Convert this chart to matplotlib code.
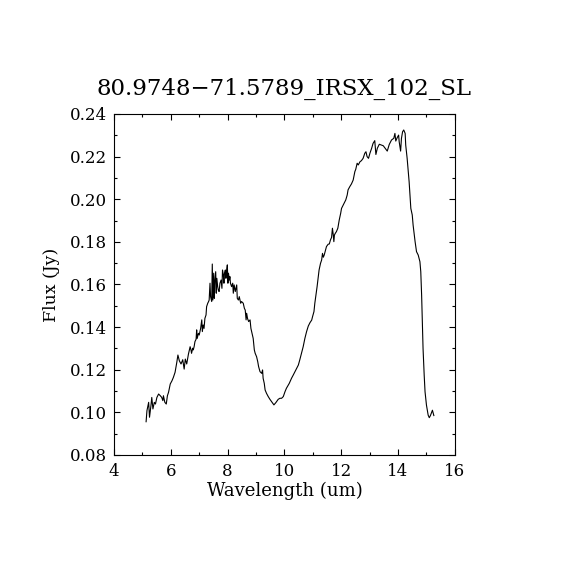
import matplotlib
matplotlib.use("Agg")
import matplotlib.pyplot as plt
from matplotlib.ticker import MultipleLocator

# spectrum (wavelength in um, flux in Jy)
wave = [5.13, 5.16, 5.22, 5.25, 5.30, 5.33, 5.37, 5.42, 5.46, 5.51, 5.57, 5.63, 5.68, 5.72,
        5.74, 5.79, 5.84, 5.88, 5.92, 5.98, 6.04, 6.09, 6.15, 6.21, 6.25, 6.30, 6.36, 6.42,
        6.47, 6.51, 6.56,
        6.62, 6.68, 6.71, 6.73, 6.77, 6.79, 6.82, 6.85, 6.89, 6.91, 6.93, 6.97,
        7.00, 7.05, 7.09, 7.11, 7.14, 7.17, 7.20, 7.24, 7.26, 7.30, 7.33, 7.35, 7.38, 7.40,
        7.44, 7.46, 7.48, 7.51, 7.53, 7.55, 7.58, 7.60, 7.62, 7.65, 7.67, 7.70, 7.73, 7.77,
        7.80, 7.82, 7.85, 7.87, 7.89, 7.92, 7.94, 7.96, 7.99, 8.01, 8.03, 8.06, 8.08, 8.10,
        8.14, 8.18, 8.20, 8.23, 8.27, 8.32, 8.34, 8.38, 8.41, 8.46, 8.49, 8.55, 8.59, 8.62,
        8.65, 8.67, 8.70, 8.74, 8.79, 8.82, 8.86, 8.90, 8.94, 8.97, 9.02, 9.06, 9.09, 9.14,
        9.20, 9.23, 9.25, 9.29, 9.32,
        9.37, 9.43, 9.49, 9.55, 9.63, 9.70, 9.78, 9.84, 9.90, 9.96, 10.02, 10.07, 10.17,
        10.25, 10.31, 10.40, 10.49, 10.54, 10.60, 10.66, 10.72, 10.78, 10.84, 10.90, 10.96,
        10.99, 11.04, 11.07, 11.11, 11.15, 11.19, 11.22, 11.27, 11.31, 11.34, 11.37, 11.40,
        11.45, 11.48, 11.54, 11.58, 11.62, 11.66, 11.69, 11.72, 11.74, 11.76, 11.79, 11.83,
        11.88, 11.93, 11.98, 12.01, 12.07, 12.13, 12.16, 12.21, 12.24, 12.30, 12.36, 12.42,
        12.48, 12.51, 12.56, 12.60, 12.66, 12.71, 12.77, 12.83, 12.87, 12.91, 12.96, 13.01,
        13.07, 13.12, 13.18, 13.22, 13.27, 13.34,
        13.48, 13.62, 13.69, 13.77, 13.85, 13.89, 13.92, 13.97, 14.02, 14.04, 14.09, 14.12,
        14.16, 14.20, 14.25, 14.27, 14.32, 14.36, 14.39, 14.42, 14.45, 14.50, 14.53, 14.57,
        14.60, 14.65, 14.71, 14.77, 14.80, 14.83, 14.86, 14.88, 14.92, 14.95, 15.00, 15.06,
        15.10, 15.14, 15.18, 15.21, 15.26]

flux = [0.0956, 0.1008, 0.1047, 0.0977, 0.1031, 0.1070, 0.1016, 0.1047, 0.1039, 0.1070,
        0.1086, 0.1078, 0.1070, 0.1055, 0.1078, 0.1047, 0.1039, 0.1078, 0.1094, 0.1133,
        0.1148, 0.1164, 0.1188, 0.1234, 0.1269, 0.1242, 0.1227, 0.1247, 0.1203, 0.1250,
        0.1227,
        0.1273, 0.1308, 0.1293, 0.1277, 0.1301, 0.1293, 0.1308, 0.1332, 0.1343, 0.1387,
        0.1347, 0.1371, 0.1363, 0.1394, 0.1434, 0.1379, 0.1410, 0.1394, 0.1441, 0.1457,
        0.1496, 0.1512, 0.1520, 0.1527, 0.1606, 0.1543, 0.1520, 0.1696, 0.1527, 0.1653,
        0.1535, 0.1613, 0.1660, 0.1559, 0.1629, 0.1590, 0.1574, 0.1567, 0.1606, 0.1621,
        0.1582, 0.1668, 0.1645, 0.1606, 0.1653, 0.1668, 0.1629, 0.1660, 0.1692, 0.1606,
        0.1653, 0.1621, 0.1637, 0.1606, 0.1590, 0.1606, 0.1559, 0.1598, 0.1567, 0.1598,
        0.1535, 0.1527, 0.1543, 0.1512, 0.1520, 0.1512, 0.1488, 0.1480, 0.1434, 0.1465,
        0.1441, 0.1426, 0.1434, 0.1394, 0.1371, 0.1347, 0.1293, 0.1277, 0.1261, 0.1238,
        0.1215, 0.1191, 0.1183, 0.1199, 0.1160, 0.1136, 0.1105,
        0.1089, 0.1074, 0.1061, 0.1050, 0.1035, 0.1046, 0.1061, 0.1066, 0.1066, 0.1074,
        0.1097, 0.1113, 0.1136, 0.1160, 0.1175, 0.1199, 0.1222, 0.1246, 0.1277, 0.1308,
        0.1347, 0.1379, 0.1405, 0.1421, 0.1433, 0.1449, 0.1473, 0.1512, 0.1551, 0.1590,
        0.1637, 0.1668, 0.1699, 0.1715, 0.1746, 0.1728, 0.1738, 0.1762, 0.1778, 0.1789,
        0.1790, 0.1809, 0.1821, 0.1864, 0.1832, 0.1801, 0.1832, 0.1840, 0.1848, 0.1864,
        0.1903, 0.1934, 0.1957, 0.1973, 0.1989, 0.1997, 0.2020, 0.2044, 0.2059, 0.2072,
        0.2090, 0.2130, 0.2140, 0.2169, 0.2161, 0.2176, 0.2181, 0.2192, 0.2216, 0.2223,
        0.2200, 0.2192, 0.2216, 0.2239, 0.2262, 0.2275, 0.2210, 0.2239, 0.2258,
        0.2251, 0.2226, 0.2257, 0.2278, 0.2286, 0.2309, 0.2273, 0.2289, 0.2301, 0.2270,
        0.2226, 0.2286, 0.2317, 0.2325, 0.2309, 0.2254, 0.2192, 0.2129, 0.2082, 0.2020,
        0.1957, 0.1926, 0.1879, 0.1832, 0.1801, 0.1754, 0.1738, 0.1707, 0.1660, 0.1550,
        0.1394, 0.1300, 0.1175, 0.1097, 0.1034, 0.0987, 0.0975, 0.0985, 0.1000, 0.1010,
        0.0985]

titulo = "80.9748\u221271.5789_IRSX_102_SL"

plt.rcParams['font.family'] = ['DejaVu Serif']

fig = plt.figure(figsize=(5.7, 5.7), dpi=100)
ax = fig.add_axes([0.2, 0.2018, 0.598, 0.5982])

ax.plot(wave, flux, color='black', linewidth=0.8)

ax.set_xlim(4, 16)
ax.set_ylim(0.08, 0.24)
ax.xaxis.set_major_locator(MultipleLocator(2))
ax.xaxis.set_minor_locator(MultipleLocator(1))
ax.yaxis.set_major_locator(MultipleLocator(0.02))
ax.yaxis.set_minor_locator(MultipleLocator(0.01))
ax.yaxis.set_major_formatter(plt.FormatStrFormatter('%.2f'))

# ticks hacia adentro en los cuatro lados
ax.tick_params(which='both', direction='in', top=True, right=True, width=0.8, labelsize=12)
ax.tick_params(which='major', length=4.2)
ax.tick_params(which='minor', length=2.3)
ax.tick_params(axis='x', which='major', pad=6)
ax.tick_params(axis='y', which='major', pad=5)
for s in ax.spines.values():
    s.set_linewidth(0.8)

ax.set_title(titulo, fontsize=16.5, pad=14)
ax.set_xlabel('Wavelength (um)', fontsize=13, labelpad=1)
ax.set_ylabel('Flux (Jy)', fontsize=12.5, labelpad=7)

fig.savefig('out.png', dpi=100, facecolor='white')
